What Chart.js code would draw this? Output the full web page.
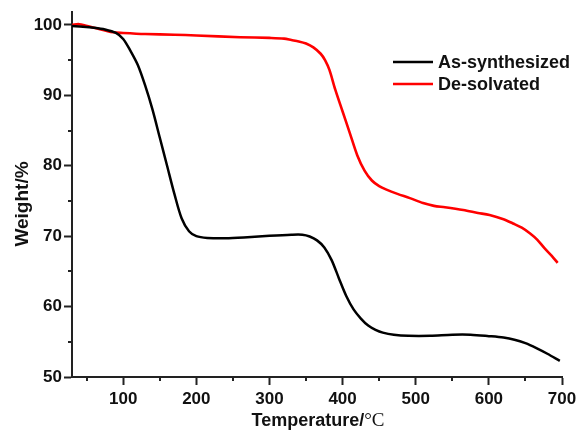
<!DOCTYPE html>
<html>
<head>
<meta charset="utf-8">
<script src="https://cdn.jsdelivr.net/npm/chart.js@4.4.0/dist/chart.umd.min.js"></script>
<style>
  html, body { margin: 0; padding: 0; background: #fff; }
  #wrap { width: 581px; height: 432px; position: relative; }
</style>
</head>
<body>
<div id="wrap"><canvas id="c" width="581" height="432"></canvas></div>
<script>
// ---- data ----
const seriesNames = ['As-synthesized', 'De-solvated'];
const seriesColors = ['#000000', '#ff0000'];

const asSynT = [30, 45, 60, 75, 90, 100, 110, 120, 130, 140, 150, 160, 170, 180, 190, 200, 215, 240, 270, 300, 330, 345, 355, 365, 375, 385, 395, 405, 415, 425, 435, 445, 455, 470, 490, 520, 550, 575, 600, 620, 635, 650, 665, 680, 697];
const asSynW = [99.85, 99.75, 99.6, 99.35, 98.85, 98.0, 96.3, 94.3, 91.4, 88.0, 84.0, 80.0, 76.0, 72.5, 70.7, 70.0, 69.75, 69.7, 69.85, 70.05, 70.2, 70.2, 69.95, 69.4, 68.4, 66.6, 64.0, 61.5, 59.6, 58.3, 57.3, 56.7, 56.3, 56.0, 55.85, 55.85, 56.0, 56.0, 55.8, 55.6, 55.3, 54.8, 54.1, 53.3, 52.3];

const desolT = [30, 40, 60, 86, 100, 130, 170, 200, 260, 300, 320, 330, 340, 350, 360, 370, 376, 382, 390, 400, 410, 420, 430, 440, 450, 460, 475, 492, 510, 525, 540, 565, 585, 601, 620, 633, 645, 656, 666, 676, 686, 694];
const desolW = [100.0, 100.1, 99.6, 98.95, 98.85, 98.7, 98.6, 98.5, 98.25, 98.15, 98.05, 97.85, 97.65, 97.35, 96.8, 95.9, 95.0, 93.6, 90.8, 87.7, 84.6, 81.5, 79.3, 77.9, 77.1, 76.6, 76.0, 75.4, 74.7, 74.3, 74.1, 73.7, 73.3, 73.0, 72.4, 71.8, 71.2, 70.4, 69.5, 68.3, 67.2, 66.2];

const xTicks = [100, 200, 300, 400, 500, 600, 700];
const xMinorTicks = [50, 150, 250, 350, 450, 550, 650];
const yTicks = [50, 60, 70, 80, 90, 100];
const yMinorTicks = [55, 65, 75, 85, 95];

const xTitleMain = 'Temperature/';
const xTitleUnit = '°C';
const yTitle = 'Weight/%';

// ---- chart ----
const AXIS = '#222222';
const TICKFONT = { family: "'Liberation Sans', Arial, sans-serif", size: 17, weight: 'bold' };

const toPts = (xs, ys) => xs.map((x, i) => ({ x: x, y: ys[i] }));

const minorTicksPlugin = {
  id: 'minorTicks',
  afterDraw(chart) {
    const ctx = chart.ctx;
    const xs = chart.scales.x, ys = chart.scales.y;
    ctx.save();
    ctx.strokeStyle = AXIS;
    ctx.lineWidth = 2;
    xMinorTicks.forEach(v => {
      const px = Math.round(xs.getPixelForValue(v));
      ctx.beginPath();
      ctx.moveTo(px, xs.top);
      ctx.lineTo(px, xs.top + 4);
      ctx.stroke();
    });
    yMinorTicks.forEach(v => {
      const py = Math.round(ys.getPixelForValue(v));
      ctx.beginPath();
      ctx.moveTo(ys.right, py);
      ctx.lineTo(ys.right - 4, py);
      ctx.stroke();
    });
    ctx.restore();
  }
};

const legendPlugin = {
  id: 'customLegend',
  afterDraw(chart) {
    const ctx = chart.ctx;
    ctx.save();
    ctx.font = "bold 18px 'Liberation Sans', Arial, sans-serif";
    ctx.textBaseline = 'middle';
    ctx.textAlign = 'left';
    const x0 = 393, x1 = 433, tx = 438;
    const rows = [62, 84];
    chart.data.datasets.forEach((ds, i) => {
      const y = rows[i];
      ctx.strokeStyle = ds.borderColor;
      ctx.lineWidth = 2.6;
      ctx.beginPath();
      ctx.moveTo(x0, y);
      ctx.lineTo(x1, y);
      ctx.stroke();
      ctx.fillStyle = '#111';
      ctx.fillText(ds.label, tx, y + 1);
    });
    ctx.restore();
  }
};

const titlesPlugin = {
  id: 'axisTitles',
  afterDraw(chart) {
    const ctx = chart.ctx;
    const area = chart.chartArea;
    ctx.save();
    const f1 = "bold 18px 'Liberation Sans', Arial, sans-serif";
    const f2 = "19px 'Liberation Serif', 'Times New Roman', serif";
    ctx.font = f1;
    const w1 = ctx.measureText(xTitleMain).width;
    ctx.font = f2;
    const w2 = ctx.measureText(xTitleUnit).width;
    const cx = (area.left + area.right) / 2 + 1;
    const start = cx - (w1 + w2) / 2;
    const by = 426;
    ctx.textBaseline = 'alphabetic';
    ctx.textAlign = 'left';
    ctx.fillStyle = '#111';
    ctx.font = f1;
    ctx.fillText(xTitleMain, start, by);
    ctx.font = f2;
    ctx.fillText(xTitleUnit, start + w1, by);

    // y title
    ctx.save();
    ctx.translate(23, 204);
    ctx.rotate(-Math.PI / 2);
    ctx.font = "bold 19px 'Liberation Sans', Arial, sans-serif";
    ctx.textAlign = 'center';
    ctx.textBaseline = 'middle';
    ctx.fillText(yTitle, 0, 0);
    ctx.restore();
    ctx.restore();
  }
};

new Chart(document.getElementById('c'), {
  type: 'line',
  data: {
    datasets: [
      {
        label: seriesNames[0],
        data: toPts(asSynT, asSynW),
        borderColor: seriesColors[0],
        borderWidth: 2.5,
        pointRadius: 0,
        tension: 0.3,
        fill: false
      },
      {
        label: seriesNames[1],
        data: toPts(desolT, desolW),
        borderColor: seriesColors[1],
        borderWidth: 2.6,
        pointRadius: 0,
        tension: 0.3,
        fill: false
      }
    ]
  },
  options: {
    responsive: false,
    animation: false,
    devicePixelRatio: 1,
    layout: { padding: { top: 12, right: 19, left: 0, bottom: 0 } },
    plugins: {
      legend: { display: false },
      tooltip: { enabled: false }
    },
    scales: {
      x: {
        type: 'linear',
        min: 30,
        max: 700,
        afterBuildTicks: (s) => { s.ticks = xTicks.map(v => ({ value: v })); },
        afterFit: (s) => { s.height = 55; },
        grid: { display: true, drawOnChartArea: false, drawTicks: true, tickLength: 8, tickWidth: 2, tickColor: AXIS },
        border: { display: true, color: AXIS, width: 2 },
        ticks: { font: TICKFONT, color: '#111', padding: 4, maxRotation: 0, autoSkip: false },
        title: { display: false }
      },
      y: {
        type: 'linear',
        min: 50,
        max: 101.8,
        afterBuildTicks: (s) => { s.ticks = yTicks.map(v => ({ value: v })); },
        afterFit: (s) => { s.width = 72; },
        grid: { display: true, drawOnChartArea: false, drawTicks: true, tickLength: 8, tickWidth: 2, tickColor: AXIS },
        border: { display: true, color: AXIS, width: 2 },
        ticks: { font: TICKFONT, color: '#111', padding: 2, autoSkip: false },
        title: { display: false }
      }
    }
  },
  plugins: [minorTicksPlugin, legendPlugin, titlesPlugin]
});
</script>
</body>
</html>
